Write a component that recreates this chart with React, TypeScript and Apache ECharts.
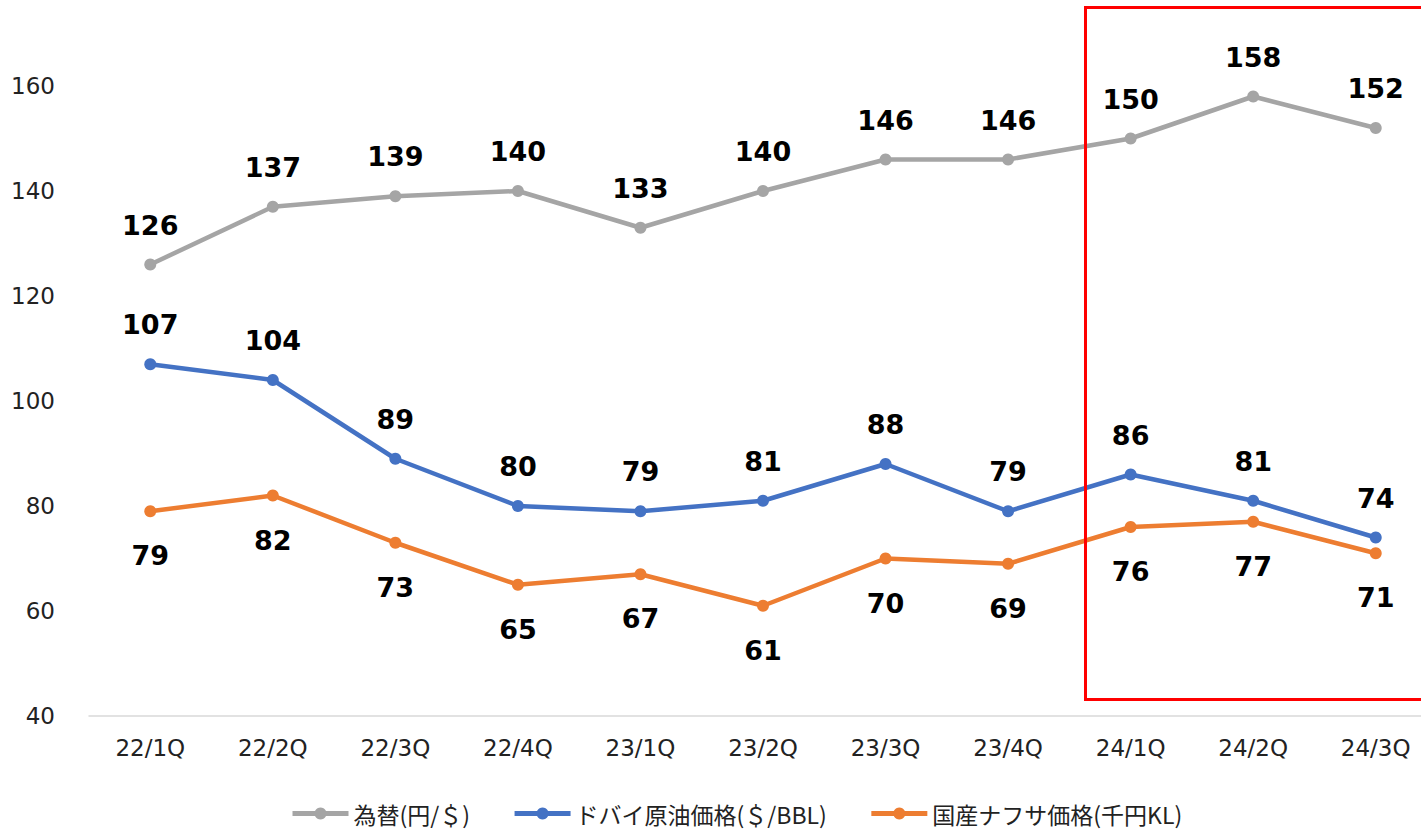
import React, { useEffect, useRef } from "react";
import * as echarts from "echarts";

const categories = ["22/1Q", "22/2Q", "22/3Q", "22/4Q", "23/1Q", "23/2Q", "23/3Q", "23/4Q", "24/1Q", "24/2Q", "24/3Q"];
const fxRate = [126, 137, 139, 140, 133, 140, 146, 146, 150, 158, 152];
const dubaiCrude = [107, 104, 89, 80, 79, 81, 88, 79, 86, 81, 74];
const naphtha = [79, 82, 73, 65, 67, 61, 70, 69, 76, 77, 71];
const seriesNames = ["為替(円/＄)", "ドバイ原油価格(＄/BBL)", "国産ナフサ価格(千円KL)"];

const NUM_FONT = "'DejaVu Sans', Verdana, sans-serif";
const JP_FONT = "'Noto Sans CJK JP', 'DejaVu Sans', sans-serif";

export default function App() {
  const ref = useRef<HTMLDivElement>(null);
  useEffect(() => {
    if (!ref.current) return;
    const chart = echarts.init(ref.current, undefined, { renderer: "svg" });
    const mk = (name: string, data: number[], color: string, pos: "top" | "bottom", dist: number) => ({
      name,
      type: "line",
      data,
      symbol: "circle",
      symbolSize: 12,
      itemStyle: { color },
      lineStyle: { color, width: 4.5 },
      label: {
        show: true,
        position: pos,
        distance: dist,
        fontFamily: NUM_FONT,
        fontWeight: "bold",
        fontSize: 27,
        color: "#000",
      },
    });
    chart.setOption({
      animation: false,
      grid: { left: 89, right: 0, top: 33.5, bottom: 114, containLabel: false },
      legend: {
        left: 285,
        bottom: 0,
        itemWidth: 56,
        itemHeight: 15,
        itemGap: 42,
        lineStyle: { width: 5 },
        textStyle: { fontFamily: JP_FONT, fontSize: 23, color: "#222" },
        data: seriesNames,
      },
      xAxis: {
        type: "category",
        data: categories,
        boundaryGap: true,
        axisLine: { lineStyle: { color: "#d9d9d9", width: 1.5 } },
        axisTick: { show: false },
        axisLabel: { fontFamily: NUM_FONT, fontSize: 23, color: "#222", margin: 20 },
      },
      yAxis: {
        type: "value",
        min: 40,
        max: 170,
        interval: 20,
        splitLine: { show: false },
        axisLine: { show: false },
        axisTick: { show: false },
        axisLabel: { fontFamily: NUM_FONT, fontSize: 23, color: "#222", margin: 34, showMaxLabel: false },
      },
      graphic: [
        {
          type: "rect",
          shape: { x: 1085.5, y: 7.5, width: 400, height: 692 },
          style: { fill: "none", stroke: "#ff0000", lineWidth: 3 },
          z: 100,
        },
      ],
      series: [
        mk(seriesNames[0], fxRate, "#a5a5a5", "top", 20),
        mk(seriesNames[1], dubaiCrude, "#4472c4", "top", 20),
        mk(seriesNames[2], naphtha, "#ed7d31", "bottom", 25),
      ],
    });
    return () => chart.dispose();
  }, []);
  return (
    <div style={{ position: "fixed", left: 0, top: 0, width: 1421, height: 830, overflow: "hidden", background: "#fff" }}>
      <div ref={ref} style={{ width: 1437, height: 830 }} />
    </div>
  );
}
